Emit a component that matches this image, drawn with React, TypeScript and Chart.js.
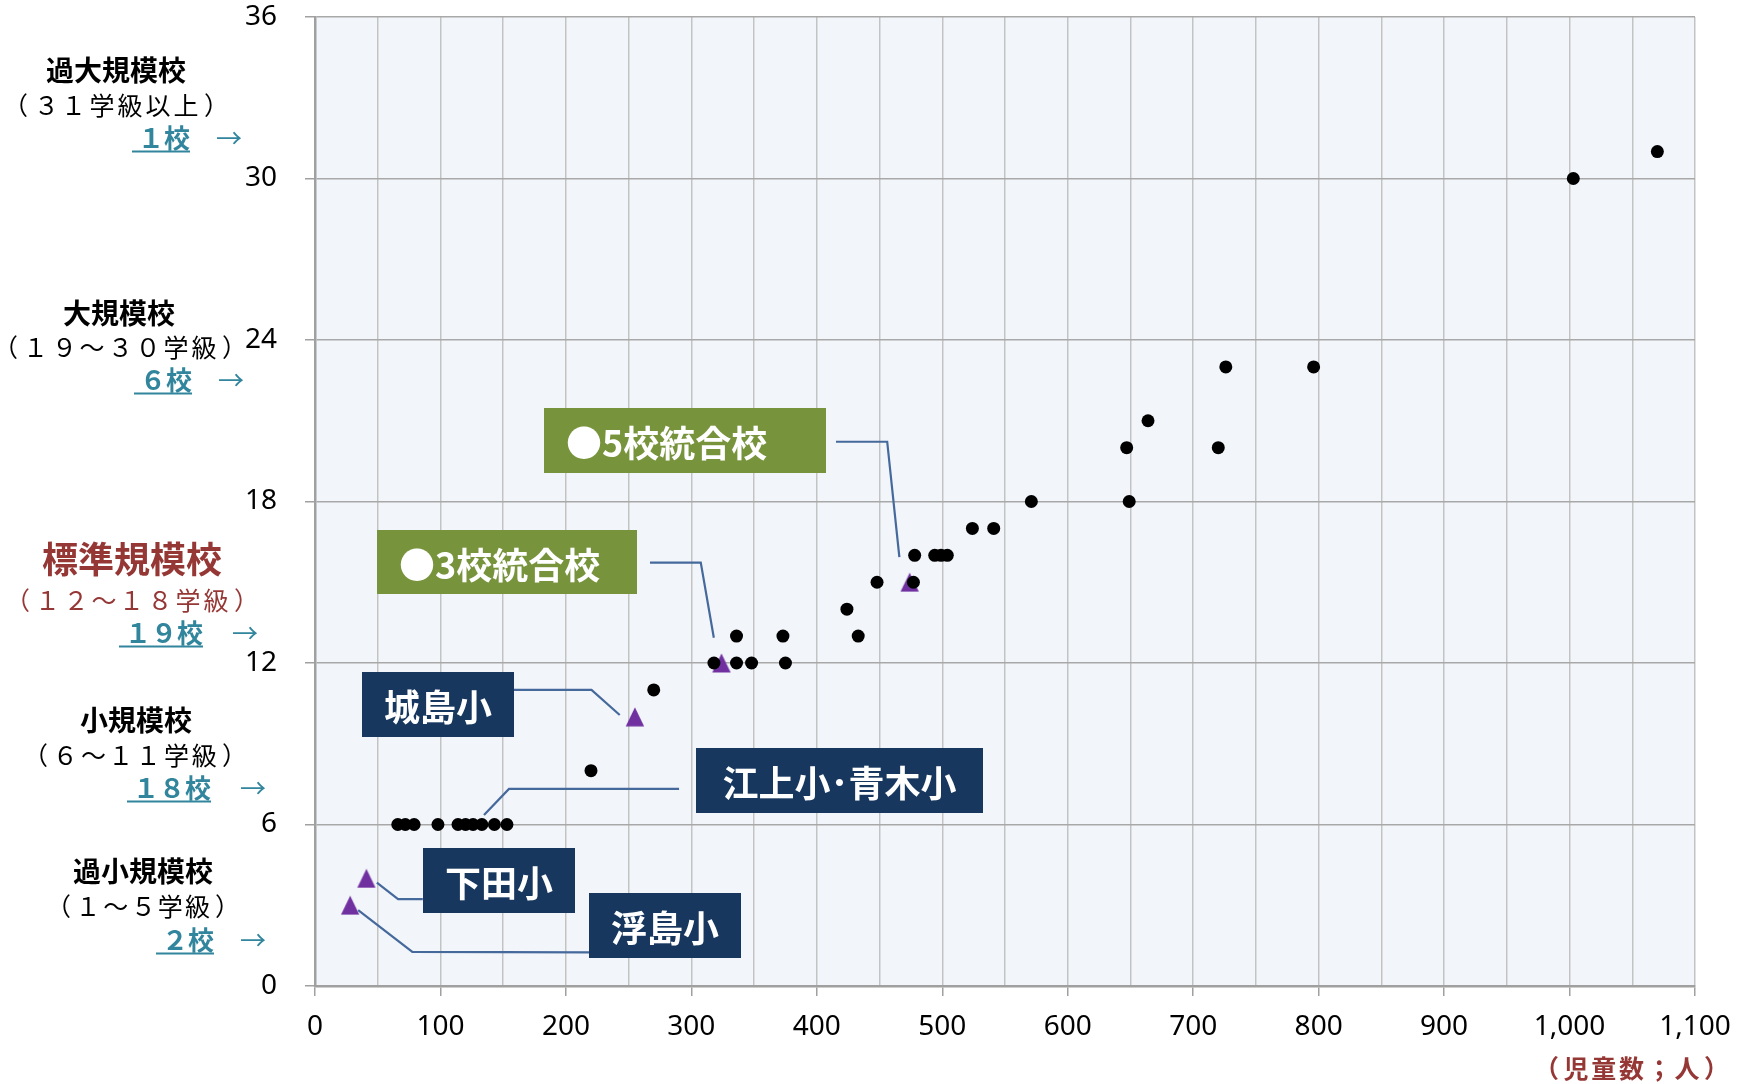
import React, { useEffect, useRef } from 'react';
import { Chart, registerables } from 'chart.js';

Chart.register(...registerables);

// ---- Data ----
// Existing schools: enrollment (児童数) and number of classes (学級数)
const schoolEnrollment = [1070, 1003, 726, 796, 664, 647, 720, 649, 571, 524, 541, 478, 494, 499, 504, 448, 477, 424, 433, 336, 373, 318, 336, 348, 375, 270, 220, 66, 72, 79, 98, 114, 120, 126, 133, 143, 153];
const schoolClasses = [31, 30, 23, 23, 21, 20, 20, 18, 18, 17, 17, 16, 16, 16, 16, 15, 15, 14, 13, 13, 13, 12, 12, 12, 12, 11, 8, 6, 6, 6, 6, 6, 6, 6, 6, 6, 6];
// Highlighted schools (triangles)
const targetEnrollment = [474, 324, 255, 41, 28];
const targetClasses = [15, 12, 10, 4, 3];

const xMin = 0;
const xMax = 1100;
const yMin = 0;
const yMax = 36;
const yStep = 6;
const xStep = 50;

// Size-class labels on the left
const sizeClassNames = ['過大規模校', '大規模校', '標準規模校', '小規模校', '過小規模校'];
const sizeClassRanges = ['（３１学級以上）', '（１９～３０学級）', '（１２～１８学級）', '（６～１１学級）', '（１～５学級）'];
const sizeClassCounts = ['１校', '６校', '１９校', '１８校', '２校'];
const xAxisTitle = '（児童数；人）';

// Callout texts and their anchor paths (in data units)
const calloutTexts = ['●5校統合校', '●3校統合校', '城島小', '江上小･青木小', '下田小', '浮島小'];
const calloutPaths: number[][][] = [
  [[415.3, 20.22], [456.1, 20.22], [465.8, 15.93]],
  [[267.0, 15.73], [307.5, 15.73], [317.9, 12.94]],
  [[158.6, 11.0], [220.4, 11.0], [242.9, 10.07]],
  [[290.2, 7.32], [154.6, 7.32], [134.7, 6.35]],
  [[85.9, 3.23], [66.2, 3.23], [49.3, 3.84]],
  [[218.4, 1.25], [77.6, 1.27], [34.4, 2.82]],
];

// ---- Styles / layout ----
const GREEN = '#77933C';
const NAVY = '#17375E';
const RED = '#953735';
const TEAL = '#31859C';
const PURPLE = '#7030A0';
const LINE = '#46699C';
const BG = '#F2F6FB';
const JP = '"Noto Sans CJK JP", "Noto Sans", sans-serif';

const calloutLayout = [
  { x: 544, y: 408, w: 282, h: 65, fill: GREEN, align: 'left', pad: 22 },
  { x: 377, y: 530, w: 260, h: 64, fill: GREEN, align: 'left', pad: 22 },
  { x: 362, y: 672, w: 152, h: 65, fill: NAVY, align: 'center', pad: 0 },
  { x: 696, y: 748, w: 287, h: 65, fill: NAVY, align: 'center', pad: 0 },
  { x: 423, y: 848, w: 152, h: 65, fill: NAVY, align: 'center', pad: 0 },
  { x: 589, y: 893, w: 152, h: 65, fill: NAVY, align: 'center', pad: 0 },
];

const sizeClassLayout = [
  { cx: 116, nameY: 70, rangeL: 20, rangeR: 212, rangeY: 105, countX: 138, countY: 138, arrowX: 216 },
  { cx: 119, nameY: 313, rangeL: 10, rangeR: 230, rangeY: 347, countX: 140, countY: 380, arrowX: 218 },
  { cx: 132, nameY: 559, rangeL: 22, rangeR: 242, rangeY: 600, countX: 125, countY: 633, arrowX: 232 },
  { cx: 136, nameY: 720, rangeL: 40, rangeR: 230, rangeY: 755, countX: 133, countY: 788, arrowX: 240 },
  { cx: 143, nameY: 871, rangeL: 63, rangeR: 223, rangeY: 906, countX: 162, countY: 940, arrowX: 240 },
];

// draw bracketed full-width text so that its ink spans [L, R]
function drawSpan(ctx: CanvasRenderingContext2D, text: string, L: number, R: number, y: number) {
  const chars = Array.from(text);
  const p = 12;
  const n = chars.length;
  const c = (R - L - 2 * p) / (n - 2);
  ctx.textAlign = 'left';
  chars.forEach((ch, i) => {
    const m = ctx.measureText(ch);
    let x: number;
    if (i === 0) x = L + m.actualBoundingBoxLeft;
    else if (i === n - 1) x = R - m.actualBoundingBoxRight;
    else {
      const center = L + p + c * (i - 1 + 0.5);
      x = center - (m.actualBoundingBoxRight - m.actualBoundingBoxLeft) / 2;
    }
    ctx.fillText(ch, x, y);
  });
}

function makeTriangle(): HTMLCanvasElement {
  const c = document.createElement('canvas');
  c.width = 20;
  c.height = 20;
  const g = c.getContext('2d')!;
  g.fillStyle = PURPLE;
  g.beginPath();
  g.moveTo(10, 0.6);
  g.lineTo(19.2, 19.4);
  g.lineTo(0.8, 19.4);
  g.closePath();
  g.fill();
  return c;
}

const annotationPlugin = {
  id: 'annotations',
  beforeDraw(chart: any) {
    const { ctx, chartArea: a } = chart;
    ctx.save();
    ctx.fillStyle = BG;
    ctx.fillRect(a.left, a.top, a.right - a.left, a.bottom - a.top);
    ctx.restore();
  },
  afterDatasetsDraw(chart: any) {
    const ctx = chart.ctx as CanvasRenderingContext2D;
    const xs = chart.scales.x;
    const ys = chart.scales.y;
    ctx.save();
    calloutPaths.forEach((path) => {
      ctx.beginPath();
      path.forEach(([vx, vy], i) => {
        const px = xs.getPixelForValue(vx);
        const py = ys.getPixelForValue(vy);
        if (i === 0) ctx.moveTo(px, py);
        else ctx.lineTo(px, py);
      });
      ctx.strokeStyle = LINE;
      ctx.lineWidth = 2.2;
      ctx.stroke();
    });
    calloutTexts.forEach((t, i) => {
      const b = calloutLayout[i];
      ctx.fillStyle = b.fill;
      ctx.fillRect(b.x, b.y, b.w, b.h);
      ctx.fillStyle = '#FFFFFF';
      ctx.font = `bold 36px ${JP}`;
      ctx.textBaseline = 'middle';
      ctx.textAlign = b.align as CanvasTextAlign;
      const tx = b.align === 'left' ? b.x + b.pad : b.x + b.w / 2;
      ctx.fillText(t, tx, b.y + b.h / 2 + 3);
    });
    ctx.restore();
  },
  afterDraw(chart: any) {
    const ctx = chart.ctx as CanvasRenderingContext2D;
    ctx.save();
    ctx.textBaseline = 'middle';
    sizeClassNames.forEach((name, i) => {
      const L = sizeClassLayout[i];
      const isStd = i === 2;
      ctx.textAlign = 'center';
      ctx.fillStyle = isStd ? RED : '#000000';
      ctx.font = isStd ? `bold 36px ${JP}` : `bold 28px ${JP}`;
      ctx.fillText(name, L.cx, L.nameY);
      ctx.font = `25px ${JP}`;
      drawSpan(ctx, sizeClassRanges[i], L.rangeL, L.rangeR, L.rangeY);
      // count
      ctx.textAlign = 'left';
      ctx.fillStyle = TEAL;
      ctx.font = `bold 26px ${JP}`;
      const cnt = sizeClassCounts[i];
      ctx.fillText(cnt, L.countX, L.countY);
      const w = ctx.measureText(cnt).width;
      ctx.strokeStyle = TEAL;
      ctx.lineWidth = 2;
      ctx.beginPath();
      ctx.moveTo(L.countX - 6, L.countY + 13.5);
      ctx.lineTo(L.countX + w, L.countY + 13.5);
      ctx.stroke();
      ctx.font = `26px ${JP}`;
      ctx.fillText('→', L.arrowX, L.countY);
    });
    ctx.fillStyle = RED;
    ctx.font = `bold 25px ${JP}`;
    drawSpan(ctx, xAxisTitle, 1550, 1713, 1068);
    ctx.restore();
  },
};

export default function App() {
  const ref = useRef<HTMLCanvasElement | null>(null);

  useEffect(() => {
    if (!ref.current) return;
    const tri = makeTriangle();
    const chart = new Chart(ref.current, {
      type: 'scatter',
      data: {
        datasets: [
          {
            label: 'schools',
            data: schoolEnrollment.map((x, i) => ({ x, y: schoolClasses[i] })),
            backgroundColor: '#000000',
            borderWidth: 0,
            pointRadius: 6.5,
            pointStyle: 'circle',
          },
          {
            label: 'targets',
            data: targetEnrollment.map((x, i) => ({ x, y: targetClasses[i] })),
            backgroundColor: PURPLE,
            borderWidth: 0,
            pointRadius: 10,
            pointStyle: tri,
          },
        ],
      },
      options: {
        responsive: false,
        animation: false,
        devicePixelRatio: 1,
        layout: { padding: { left: 0, right: 51, top: 17, bottom: 0 } },
        plugins: {
          legend: { display: false },
          tooltip: { enabled: false },
        },
        scales: {
          x: {
            type: 'linear',
            min: xMin,
            max: xMax,
            afterFit: (s: any) => {
              s.height = 98;
            },
            ticks: {
              stepSize: xStep,
              autoSkip: false,
              maxRotation: 0,
              padding: 14,
              color: '#000000',
              font: { family: '"Noto Sans", sans-serif', size: 28 },
              callback: (v: any) => (Number(v) % 100 === 0 ? Number(v).toLocaleString('en-US') : ''),
            },
            grid: {
              color: '#C3C3C3',
              lineWidth: 1.5,
              tickLength: 10,
              tickColor: (c: any) => (c.tick && c.tick.value % 100 === 0 ? '#A0A0A0' : 'rgba(0,0,0,0)'),
            },
            border: { color: '#A0A0A0', width: 2.5 },
          },
          y: {
            type: 'linear',
            min: yMin,
            max: yMax,
            afterFit: (s: any) => {
              s.width = 315;
              s.paddingTop = 0;
              s.paddingBottom = 0;
            },
            ticks: {
              stepSize: yStep,
              padding: 28,
              color: '#000000',
              font: { family: '"Noto Sans", sans-serif', size: 28, lineHeight: 1.1 },
            },
            grid: {
              color: '#A8A8A8',
              lineWidth: 1.5,
              tickLength: 10,
              tickColor: '#A0A0A0',
            },
            border: { color: '#A0A0A0', width: 2.5 },
          },
        },
      },
      plugins: [annotationPlugin],
    } as any);
    return () => chart.destroy();
  }, []);

  return (
    <div style={{ position: 'absolute', left: 0, top: 0, width: 1746, height: 1084, background: '#FFFFFF' }}>
      <canvas ref={ref} width={1746} height={1084} style={{ display: 'block', width: 1746, height: 1084 }} />
    </div>
  );
}
